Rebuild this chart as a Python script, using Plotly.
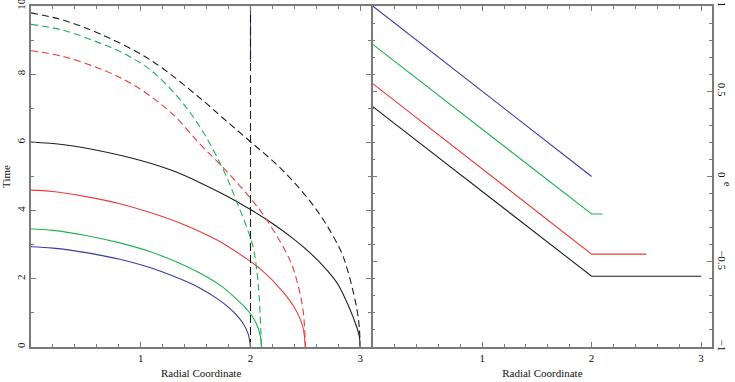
import plotly.graph_objects as go

# ---------------- data ----------------
# Left panel: solid curves
blue_sx = [0, 0.2, 0.4, 0.6, 0.8, 1.0, 1.2, 1.4, 1.55, 1.7, 1.8, 1.88, 1.94, 1.98, 2.0]
blue_sy = [2.94, 2.90, 2.82, 2.71, 2.58, 2.41, 2.20, 1.94, 1.71, 1.41, 1.16, 0.91, 0.65, 0.37, 0.0]

green_sx = [0, 0.2, 0.5, 0.8, 1.1, 1.4, 1.6, 1.75, 1.85, 1.95, 2.02, 2.07, 2.09, 2.1]
green_sy = [3.46, 3.42, 3.27, 3.06, 2.78, 2.39, 2.06, 1.75, 1.47, 1.16, 0.88, 0.55, 0.31, 0.0]

red_sx = [0, 0.2, 0.5, 0.8, 1.1, 1.4, 1.7, 1.94, 2.1, 2.3, 2.4, 2.45, 2.48, 2.5]
red_sy = [4.60, 4.56, 4.41, 4.21, 3.93, 3.58, 3.13, 2.64, 2.26, 1.60, 1.16, 0.84, 0.55, 0.0]

black_sx = [0, 0.3, 0.6, 1.0, 1.3, 1.54, 1.8, 2.0, 2.2, 2.4, 2.55, 2.7, 2.8, 2.9, 2.96, 2.99, 3.0]
black_sy = [6.01, 5.93, 5.77, 5.47, 5.16, 4.82, 4.40, 4.03, 3.62, 3.15, 2.74, 2.24, 1.82, 1.15, 0.66, 0.33, 0.0]

# Left panel: dashed curves
black_dx = [0, 0.3, 0.63, 1.087, 1.54, 1.754, 2.0, 2.3, 2.6, 2.82, 2.88, 2.93, 2.97, 2.99, 3.0]
black_dy = [9.80, 9.58, 9.18, 8.42, 7.30, 6.70, 6.02, 5.16, 4.03, 2.84, 2.30, 1.70, 1.10, 0.62, 0.0]

green_dx = [0, 0.28, 0.58, 0.85, 1.09, 1.34, 1.54, 1.74, 1.876, 2.0, 2.03, 2.07, 2.1]
green_dy = [9.46, 9.30, 8.97, 8.60, 8.12, 7.32, 6.45, 5.28, 4.25, 3.20, 2.84, 1.86, 0.0]

red_dx = [0, 0.28, 0.58, 0.85, 1.09, 1.3, 1.54, 1.74, 2.0, 2.15, 2.36, 2.43, 2.48, 2.5]
red_dy = [8.69, 8.53, 8.22, 7.84, 7.35, 6.80, 5.95, 5.30, 4.36, 3.72, 2.54, 1.85, 1.05, 0.0]

vert_x = [2.0, 2.0]
vert_y = [0.0, 10.0]
blue_vx = [2.0, 2.0]
blue_vy = [8.36, 10.0]

# Right panel: e(r)
blue_ex = [0, 2.0]
blue_ey = [1.0, 0.0]
green_ex = [0, 2.0, 2.1]
green_ey = [0.775, -0.22, -0.22]
red_ex = [0, 2.0, 2.5]
red_ey = [0.545, -0.455, -0.455]
black_ex = [0, 2.0, 3.0]
black_ey = [0.41, -0.585, -0.585]

x_ticks = [1, 2, 3]
time_ticks = [0, 2, 4, 6, 8, 10]
e_ticks = [-1, -0.5, 0, 0.5, 1]

# ---------------- style ----------------
BLUE = "#3b3ba6"
GREEN = "#1db350"
RED = "#f03a3a"
BLACK = "#1e1e1e"
AXC = "#7a7a7a"
FONT = "Liberation Serif"
DASH = "7px,4px"
LW_AX = 1.5

fig = go.Figure()

def line(x, y, color, dash="solid", ax="1", width=1.1, shape="linear"):
    xa = "x" if ax == "1" else "x2"
    ya = "y" if ax == "1" else "y2"
    fig.add_trace(go.Scatter(x=x, y=y, mode="lines", xaxis=xa, yaxis=ya,
                             line=dict(color=color, width=width, dash=dash,
                                       shape=shape, smoothing=1.0),
                             showlegend=False, hoverinfo="skip", cliponaxis=True))

# left panel
line(blue_vx, blue_vy, BLUE, "solid")
line(blue_sx, blue_sy, BLUE, shape="spline")
line(green_sx, green_sy, GREEN, shape="spline")
line(red_sx, red_sy, RED, shape="spline")
line(black_sx, black_sy, BLACK, shape="spline")
line(red_dx, red_dy, RED, DASH, shape="spline")
line(green_dx, green_dy, GREEN, DASH, shape="spline")
line(black_dx, black_dy, BLACK, DASH, shape="spline")
line(vert_x, vert_y, BLACK, "8px,4px")

# right panel
line(blue_ex, blue_ey, BLUE, ax="2")
line(green_ex, green_ey, GREEN, ax="2")
line(red_ex, red_ey, RED, ax="2")
line(black_ex, black_ey, BLACK, ax="2")

tickfont = dict(family=FONT, size=11, color="#111")
titlefont = dict(family=FONT, size=11, color="#111")

def xaxis(domain, anchor):
    return dict(domain=domain, anchor=anchor, range=[0, 3.1],
                tickvals=x_ticks, ticks="inside", ticklen=5, tickwidth=1, tickcolor=AXC,
                minor=dict(dtick=0.2, tick0=0, ticks="inside", ticklen=3, tickcolor=AXC, tickwidth=1),
                showline=True, linecolor=AXC, linewidth=LW_AX, mirror="allticks",
                showgrid=False, zeroline=False, tickfont=tickfont,
                title=dict(text="Radial Coordinate", font=titlefont, standoff=6),
                automargin=False)

fig.update_layout(
    width=735, height=382,
    margin=dict(l=31, r=23, t=6, b=35),
    paper_bgcolor="white", plot_bgcolor="white",
    xaxis=xaxis([0, 0.4996], "y"),
    xaxis2=xaxis([0.5018, 1.0], "y2"),
    yaxis=dict(domain=[0, 1], anchor="x", range=[0, 10],
               tickvals=time_ticks, ticks="inside", ticklen=5, tickwidth=1, tickcolor=AXC,
               minor=dict(dtick=1, tick0=0, ticks="inside", ticklen=3, tickcolor=AXC, tickwidth=1),
               showline=True, linecolor=AXC, linewidth=LW_AX, mirror="allticks",
               showgrid=False, zeroline=False, tickfont=tickfont, tickangle=-90,
               ticklabeloverflow="allow",
               title=dict(text="Time", font=titlefont, standoff=4),
               automargin=False),
    yaxis2=dict(domain=[0, 1], anchor="x2", side="right", range=[-1, 1],
                tickvals=e_ticks, ticks="inside", ticklen=5, tickwidth=1, tickcolor=AXC,
                minor=dict(dtick=0.1, tick0=0, ticks="inside", ticklen=3, tickcolor=AXC, tickwidth=1),
                showline=True, linecolor=AXC, linewidth=LW_AX, mirror="allticks",
                showgrid=False, zeroline=False, tickfont=tickfont, tickangle=90,
                ticklabeloverflow="allow",
                automargin=False),
    annotations=[dict(text="e", xref="paper", yref="paper", x=1.024, y=0.478,
                      showarrow=False, textangle=90, font=titlefont,
                      xanchor="center", yanchor="middle")],
)

fig.write_html("out.html", config={"displayModeBar": False},
               post_script="document.body.style.margin='0';document.body.style.overflow='hidden';")
